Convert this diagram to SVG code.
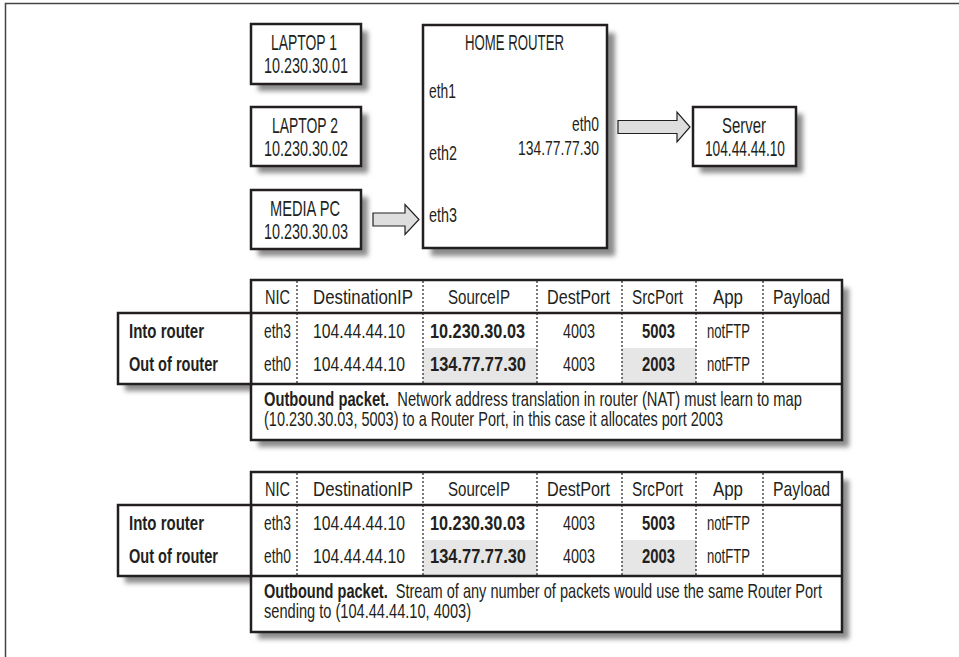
<svg xmlns="http://www.w3.org/2000/svg" width="959" height="657" viewBox="0 0 959 657">
<defs>
<style>
text{font-family:"Liberation Sans Narrow","Liberation Sans",Arial,sans-serif;fill:#231f20;font-size:21px}
.t{font-size:22px}
.b{font-weight:bold}
.box{fill:#fff;stroke:#231f20;stroke-width:2.5}
.ln{stroke:#231f20;stroke-width:2.5;fill:none}
.sh{fill:#8c8c8c;filter:url(#blur)}
.dot{stroke:#231f20;stroke-width:1.2;stroke-dasharray:2 2;fill:none}
.hl{fill:#e6e6e6}
.arrow{fill:#dedede;stroke:#231f20;stroke-width:1.2;stroke-linejoin:miter}
</style>
<filter id="blur" x="-20%" y="-20%" width="140%" height="140%"><feGaussianBlur stdDeviation="2.4"/></filter>
</defs>
<rect width="959" height="657" fill="#fff"/>
<path d="M5.5 657 V3.5 H959" fill="none" stroke="#444" stroke-width="1.5"/>

<g id="laptop1">
<rect class="sh" x="258" y="31" width="110" height="60"/>
<rect class="box" x="251" y="24" width="110" height="60"/>
<text class="t" x="271" y="50" textLength="66" lengthAdjust="spacingAndGlyphs">LAPTOP 1</text>
<text class="t" x="264" y="73" textLength="84" lengthAdjust="spacingAndGlyphs">10.230.30.01</text>
</g>
<g id="laptop2">
<rect class="sh" x="258" y="114" width="110" height="59"/>
<rect class="box" x="251" y="107" width="110" height="59"/>
<text class="t" x="272" y="133" textLength="66" lengthAdjust="spacingAndGlyphs">LAPTOP 2</text>
<text class="t" x="264" y="156" textLength="84" lengthAdjust="spacingAndGlyphs">10.230.30.02</text>
</g>
<g id="mediapc">
<rect class="sh" x="258" y="197" width="110" height="59"/>
<rect class="box" x="251" y="190" width="110" height="59"/>
<text class="t" x="270" y="216" textLength="70" lengthAdjust="spacingAndGlyphs">MEDIA PC</text>
<text class="t" x="264" y="239" textLength="84" lengthAdjust="spacingAndGlyphs">10.230.30.03</text>
</g>
<g id="router">
<rect class="sh" x="431" y="33" width="184" height="223"/>
<rect class="box" x="423" y="25" width="184" height="223"/>
<text class="t" x="465" y="50" textLength="99" lengthAdjust="spacingAndGlyphs">HOME ROUTER</text>
<text x="429" y="98" textLength="27" lengthAdjust="spacingAndGlyphs">eth1</text>
<text x="429" y="160" textLength="28" lengthAdjust="spacingAndGlyphs">eth2</text>
<text x="429" y="222" textLength="28" lengthAdjust="spacingAndGlyphs">eth3</text>
<text x="572" y="131" textLength="27" lengthAdjust="spacingAndGlyphs">eth0</text>
<text x="518" y="155" textLength="81" lengthAdjust="spacingAndGlyphs">134.77.77.30</text>
</g>
<g id="server">
<rect class="sh" x="700" y="114" width="103" height="59"/>
<rect class="box" x="693" y="107" width="103" height="59"/>
<text class="t" x="722" y="133" textLength="44" lengthAdjust="spacingAndGlyphs">Server</text>
<text class="t" x="705" y="156" textLength="80" lengthAdjust="spacingAndGlyphs">104.44.44.10</text>
</g>

<g id="connectors">
<path class="arrow" d="M373 213 H405 V204.5 L419 219.5 L405 234.5 V226 H373 Z"/>
<path class="arrow" d="M618 120.5 H677 V112 L690 127 L677 142 V133.5 H618 Z"/>
</g>

<g id="table1">
<path class="sh" d="M258 288 H849 V447 H258 Z M125 320 H258 V391 H125 Z"/>
<rect class="box" x="251" y="280" width="591" height="160"/>
<rect class="hl" x="423" y="348" width="114" height="35"/>
<rect class="hl" x="622" y="348" width="74" height="35"/>
<path class="dot" d="M297 281 V383 M423 281 V383 M537 281 V383 M622 281 V383 M696 281 V383 M763 281 V383"/>
<path class="ln" d="M251 313 H842 M251 384 H842"/>
<rect class="box" x="118" y="313" width="133" height="71"/>
<text x="265" y="304" textLength="25" lengthAdjust="spacingAndGlyphs">NIC</text>
<text x="313" y="304" textLength="100" lengthAdjust="spacingAndGlyphs">DestinationIP</text>
<text x="448" y="304" textLength="62" lengthAdjust="spacingAndGlyphs">SourceIP</text>
<text x="547" y="304" textLength="63" lengthAdjust="spacingAndGlyphs">DestPort</text>
<text x="632" y="304" textLength="51" lengthAdjust="spacingAndGlyphs">SrcPort</text>
<text x="713" y="304" textLength="30" lengthAdjust="spacingAndGlyphs">App</text>
<text x="773" y="304" textLength="57" lengthAdjust="spacingAndGlyphs">Payload</text>
<text class="b" x="129" y="338" textLength="75" lengthAdjust="spacingAndGlyphs">Into router</text>
<text x="264" y="338" textLength="27" lengthAdjust="spacingAndGlyphs">eth3</text>
<text x="313" y="338" textLength="92" lengthAdjust="spacingAndGlyphs">104.44.44.10</text>
<text class="b" x="430" y="338" textLength="95" lengthAdjust="spacingAndGlyphs">10.230.30.03</text>
<text x="563" y="338" textLength="32" lengthAdjust="spacingAndGlyphs">4003</text>
<text class="b" x="642" y="338" textLength="33" lengthAdjust="spacingAndGlyphs">5003</text>
<text x="707" y="338" textLength="43" lengthAdjust="spacingAndGlyphs">notFTP</text>
<text class="b" x="129" y="370.5" textLength="89" lengthAdjust="spacingAndGlyphs">Out of router</text>
<text x="264" y="370.5" textLength="27" lengthAdjust="spacingAndGlyphs">eth0</text>
<text x="313" y="370.5" textLength="92" lengthAdjust="spacingAndGlyphs">104.44.44.10</text>
<text class="b" x="430" y="370.5" textLength="96" lengthAdjust="spacingAndGlyphs">134.77.77.30</text>
<text x="563" y="370.5" textLength="32" lengthAdjust="spacingAndGlyphs">4003</text>
<text class="b" x="642" y="370.5" textLength="33" lengthAdjust="spacingAndGlyphs">2003</text>
<text x="707" y="370.5" textLength="43" lengthAdjust="spacingAndGlyphs">notFTP</text>
<text x="264" y="406" textLength="538" lengthAdjust="spacingAndGlyphs"><tspan class="b">Outbound packet.</tspan>&#160; Network address translation in router (NAT) must learn to map</text>
<text x="264" y="426" textLength="459" lengthAdjust="spacingAndGlyphs">(10.230.30.03, 5003) to a Router Port, in this case it allocates port 2003</text>
</g>

<g id="table2" transform="translate(0,192)">
<path class="sh" d="M258 288 H849 V447 H258 Z M125 320 H258 V391 H125 Z"/>
<rect class="box" x="251" y="280" width="591" height="160"/>
<rect class="hl" x="423" y="348" width="114" height="35"/>
<rect class="hl" x="622" y="348" width="74" height="35"/>
<path class="dot" d="M297 281 V383 M423 281 V383 M537 281 V383 M622 281 V383 M696 281 V383 M763 281 V383"/>
<path class="ln" d="M251 313 H842 M251 384 H842"/>
<rect class="box" x="118" y="313" width="133" height="71"/>
<text x="265" y="304" textLength="25" lengthAdjust="spacingAndGlyphs">NIC</text>
<text x="313" y="304" textLength="100" lengthAdjust="spacingAndGlyphs">DestinationIP</text>
<text x="448" y="304" textLength="62" lengthAdjust="spacingAndGlyphs">SourceIP</text>
<text x="547" y="304" textLength="63" lengthAdjust="spacingAndGlyphs">DestPort</text>
<text x="632" y="304" textLength="51" lengthAdjust="spacingAndGlyphs">SrcPort</text>
<text x="713" y="304" textLength="30" lengthAdjust="spacingAndGlyphs">App</text>
<text x="773" y="304" textLength="57" lengthAdjust="spacingAndGlyphs">Payload</text>
<text class="b" x="129" y="338" textLength="75" lengthAdjust="spacingAndGlyphs">Into router</text>
<text x="264" y="338" textLength="27" lengthAdjust="spacingAndGlyphs">eth3</text>
<text x="313" y="338" textLength="92" lengthAdjust="spacingAndGlyphs">104.44.44.10</text>
<text class="b" x="430" y="338" textLength="95" lengthAdjust="spacingAndGlyphs">10.230.30.03</text>
<text x="563" y="338" textLength="32" lengthAdjust="spacingAndGlyphs">4003</text>
<text class="b" x="642" y="338" textLength="33" lengthAdjust="spacingAndGlyphs">5003</text>
<text x="707" y="338" textLength="43" lengthAdjust="spacingAndGlyphs">notFTP</text>
<text class="b" x="129" y="370.5" textLength="89" lengthAdjust="spacingAndGlyphs">Out of router</text>
<text x="264" y="370.5" textLength="27" lengthAdjust="spacingAndGlyphs">eth0</text>
<text x="313" y="370.5" textLength="92" lengthAdjust="spacingAndGlyphs">104.44.44.10</text>
<text class="b" x="430" y="370.5" textLength="96" lengthAdjust="spacingAndGlyphs">134.77.77.30</text>
<text x="563" y="370.5" textLength="32" lengthAdjust="spacingAndGlyphs">4003</text>
<text class="b" x="642" y="370.5" textLength="33" lengthAdjust="spacingAndGlyphs">2003</text>
<text x="707" y="370.5" textLength="43" lengthAdjust="spacingAndGlyphs">notFTP</text>
<text x="264" y="406" textLength="558" lengthAdjust="spacingAndGlyphs"><tspan class="b">Outbound packet.</tspan>&#160; Stream of any number of packets would use the same Router Port</text>
<text x="264" y="426" textLength="207" lengthAdjust="spacingAndGlyphs">sending to (104.44.44.10, 4003)</text>
</g>
</svg>
